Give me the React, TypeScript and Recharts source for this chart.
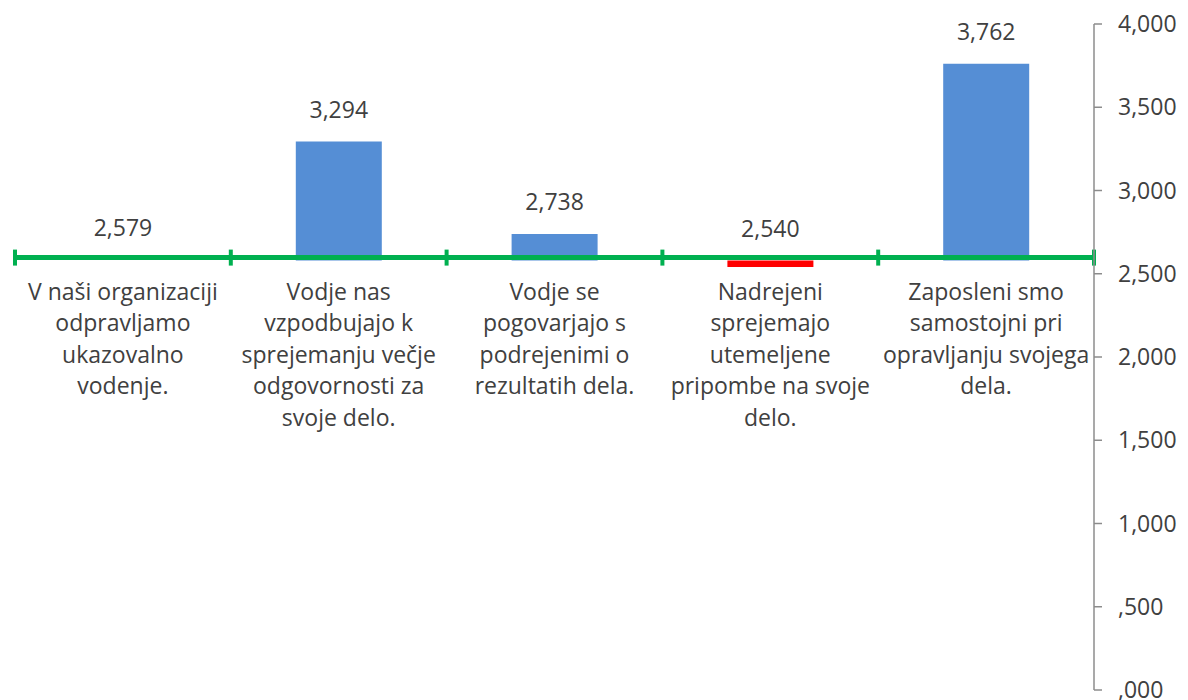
import React from "react";
import {
  BarChart,
  Bar,
  XAxis,
  YAxis,
  Cell,
  LabelList,
  ReferenceLine,
} from "recharts";

const categories = [
  "V naši organizaciji\nodpravljamo\nukazovalno\nvodenje.",
  "Vodje nas\nvzpodbujajo k\nsprejemanju večje\nodgovornosti za\nsvoje delo.",
  "Vodje se\npogovarjajo s\npodrejenimi o\nrezultatih dela.",
  "Nadrejeni\nsprejemajo\nutemeljene\npripombe na svoje\ndelo.",
  "Zaposleni smo\nsamostojni pri\nopravljanju svojega\ndela.",
];
const scores = [2.579, 3.294, 2.738, 2.54, 3.762];
const baseline = 2.579;
const yTicks = [0, 0.5, 1, 1.5, 2, 2.5, 3, 3.5, 4];

const WIDTH = 1188;
const HEIGHT = 700;
const MARGIN = { top: 24, right: 0, bottom: 0, left: 15 };
const X_AXIS_HEIGHT = 10;
const Y_MAX = 4;
const TEXT = "#404040";
const FONT = "'Open Sans', sans-serif";
const FONT_SIZE = 23;

const plotHeight = HEIGHT - MARGIN.top - MARGIN.bottom - X_AXIS_HEIGHT;
const baselineY = MARGIN.top + (1 - baseline / Y_MAX) * plotHeight;

const fmt = (v: number) => v.toFixed(3).replace(".", ",").replace(/^0/, "");

const chartData = categories.map((name, i) => ({
  name,
  value: scores[i],
  range: [Math.min(baseline, scores[i]), Math.max(baseline, scores[i])],
}));

const barColor = (v: number) =>
  v === baseline ? "transparent" : v < baseline ? "#FF0000" : "#558ED5";

const CategoryTick = ({ x, payload }: any) => {
  const lines = String(payload.value).split("\n");
  return (
    <text
      x={x}
      y={baselineY + 31}
      textAnchor="middle"
      fill={TEXT}
      fontSize={FONT_SIZE}
      fontFamily={FONT}
    >
      {lines.map((line, i) => (
        <tspan key={i} x={x} dy={i === 0 ? "0.35em" : 31.5}>
          {line}
        </tspan>
      ))}
    </text>
  );
};

// green baseline with small marks between the categories
const BaseLine = (props: any) => {
  const { x1, x2, y1 } = props;
  const y = y1 - 3;
  const step = (x2 - x1) / categories.length;
  return (
    <g>
      <line x1={x1} x2={x2} y1={y} y2={y} stroke="#00B050" strokeWidth={5} />
      {categories.concat([""]).map((_, i) => (
        <line
          key={i}
          x1={x1 + i * step}
          x2={x1 + i * step}
          y1={y - 8}
          y2={y + 8}
          stroke="#00B050"
          strokeWidth={4}
        />
      ))}
    </g>
  );
};

export default function App() {
  return (
    <div style={{ position: "absolute", left: 0, top: 0, background: "#fff" }}>
      <BarChart width={WIDTH} height={HEIGHT} data={chartData} margin={MARGIN}>
        <XAxis
          dataKey="name"
          axisLine={false}
          tickLine={false}
          height={X_AXIS_HEIGHT}
          interval={0}
          tick={<CategoryTick />}
        />
        <YAxis
          orientation="right"
          width={94}
          domain={[0, Y_MAX]}
          ticks={yTicks}
          interval={0}
          tickFormatter={fmt}
          axisLine={{ stroke: "#8c8c8c", strokeWidth: 1.5 }}
          tickLine={{ stroke: "#8c8c8c", strokeWidth: 1.5 }}
          tickSize={8}
          tickMargin={16}
          tick={{ fill: TEXT, fontSize: FONT_SIZE, fontFamily: FONT }}
        />
        <Bar
          dataKey="range"
          barSize={86}
          minPointSize={1}
          isAnimationActive={false}
        >
          {chartData.map((d, i) => (
            <Cell key={i} fill={barColor(d.value)} />
          ))}
          <LabelList
            dataKey="value"
            position="top"
            offset={24}
            formatter={(v: any) => fmt(Number(v))}
            fill={TEXT}
            fontSize={FONT_SIZE}
            fontFamily={FONT}
          />
        </Bar>
        <ReferenceLine y={baseline} shape={<BaseLine />} ifOverflow="visible" />
      </BarChart>
    </div>
  );
}
